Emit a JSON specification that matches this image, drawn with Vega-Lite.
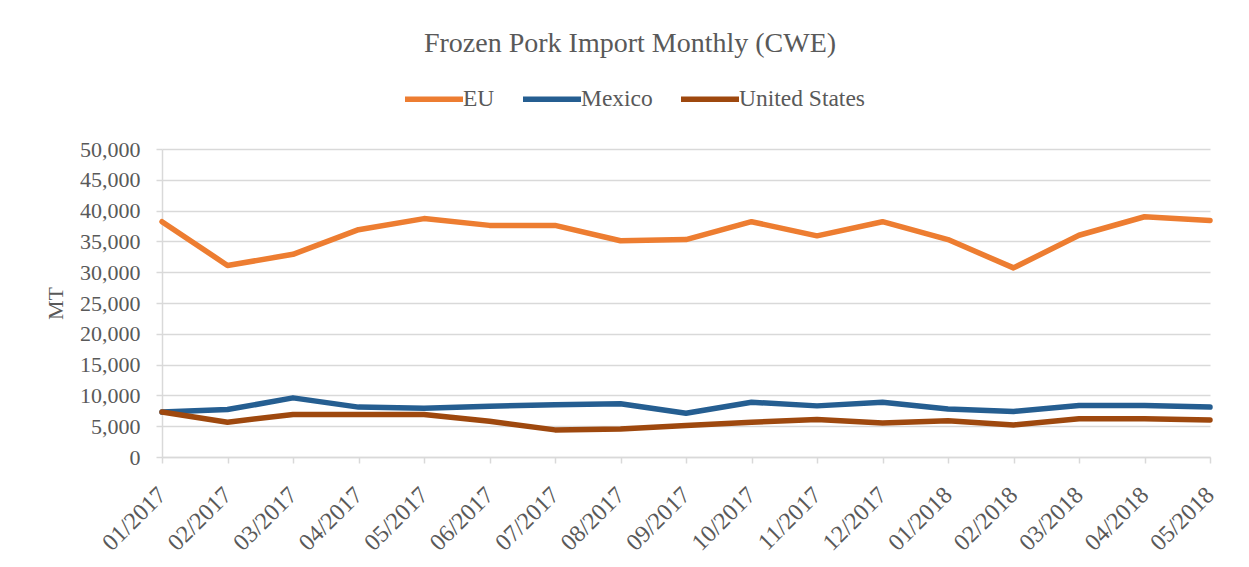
{
  "$schema": "https://vega.github.io/schema/vega-lite/v6.json",
  "width": 1048,
  "height": 308,
  "autosize": {"type": "none"},
  "padding": {"left": 162, "top": 149, "right": 39, "bottom": 110},
  "background": "white",
  "title": {
    "text": "Frozen Pork Import Monthly (CWE)",
    "font": "Liberation Serif",
    "fontSize": 28,
    "fontWeight": "normal",
    "color": "#595959",
    "anchor": "middle",
    "dx": -56,
    "offset": 9
  },
  "data": {
    "values": [
      {"month": "01/2017", "series": "EU", "value": 38200},
      {"month": "02/2017", "series": "EU", "value": 31100},
      {"month": "03/2017", "series": "EU", "value": 32900},
      {"month": "04/2017", "series": "EU", "value": 36900},
      {"month": "05/2017", "series": "EU", "value": 38700},
      {"month": "06/2017", "series": "EU", "value": 37600},
      {"month": "07/2017", "series": "EU", "value": 37600},
      {"month": "08/2017", "series": "EU", "value": 35100},
      {"month": "09/2017", "series": "EU", "value": 35300},
      {"month": "10/2017", "series": "EU", "value": 38200},
      {"month": "11/2017", "series": "EU", "value": 35900},
      {"month": "12/2017", "series": "EU", "value": 38200},
      {"month": "01/2018", "series": "EU", "value": 35300},
      {"month": "02/2018", "series": "EU", "value": 30700},
      {"month": "03/2018", "series": "EU", "value": 36000},
      {"month": "04/2018", "series": "EU", "value": 39000},
      {"month": "05/2018", "series": "EU", "value": 38400},
      {"month": "01/2017", "series": "Mexico", "value": 7300},
      {"month": "02/2017", "series": "Mexico", "value": 7700},
      {"month": "03/2017", "series": "Mexico", "value": 9600},
      {"month": "04/2017", "series": "Mexico", "value": 8100},
      {"month": "05/2017", "series": "Mexico", "value": 7900},
      {"month": "06/2017", "series": "Mexico", "value": 8250},
      {"month": "07/2017", "series": "Mexico", "value": 8500},
      {"month": "08/2017", "series": "Mexico", "value": 8650},
      {"month": "09/2017", "series": "Mexico", "value": 7100},
      {"month": "10/2017", "series": "Mexico", "value": 8900},
      {"month": "11/2017", "series": "Mexico", "value": 8300},
      {"month": "12/2017", "series": "Mexico", "value": 8900},
      {"month": "01/2018", "series": "Mexico", "value": 7800},
      {"month": "02/2018", "series": "Mexico", "value": 7400},
      {"month": "03/2018", "series": "Mexico", "value": 8350},
      {"month": "04/2018", "series": "Mexico", "value": 8350},
      {"month": "05/2018", "series": "Mexico", "value": 8100},
      {"month": "01/2017", "series": "United States", "value": 7300},
      {"month": "02/2017", "series": "United States", "value": 5650},
      {"month": "03/2017", "series": "United States", "value": 6900},
      {"month": "04/2017", "series": "United States", "value": 6900},
      {"month": "05/2017", "series": "United States", "value": 6900},
      {"month": "06/2017", "series": "United States", "value": 5800},
      {"month": "07/2017", "series": "United States", "value": 4400},
      {"month": "08/2017", "series": "United States", "value": 4550},
      {"month": "09/2017", "series": "United States", "value": 5100},
      {"month": "10/2017", "series": "United States", "value": 5650},
      {"month": "11/2017", "series": "United States", "value": 6100},
      {"month": "12/2017", "series": "United States", "value": 5500},
      {"month": "01/2018", "series": "United States", "value": 5900},
      {"month": "02/2018", "series": "United States", "value": 5200},
      {"month": "03/2018", "series": "United States", "value": 6200},
      {"month": "04/2018", "series": "United States", "value": 6200},
      {"month": "05/2018", "series": "United States", "value": 6000}
    ]
  },
  "mark": {"type": "line", "strokeWidth": 5.5, "strokeJoin": "round", "strokeCap": "round"},
  "encoding": {
    "x": {
      "field": "month",
      "type": "ordinal",
      "sort": null,
      "scale": {"type": "point", "padding": 0},
      "axis": {
        "title": null,
        "labelAngle": -45,
        "labelAlign": "right",
        "labelBaseline": "middle",
        "labelPadding": 28,
        "labelFont": "Liberation Serif",
        "labelFontSize": 24,
        "labelColor": "#595959",
        "domainColor": "#D9D9D9",
        "domainWidth": 1.5,
        "tickColor": "#D9D9D9",
        "tickSize": 6,
        "tickWidth": 1.5,
        "grid": false
      }
    },
    "y": {
      "field": "value",
      "type": "quantitative",
      "scale": {"domain": [0, 50000], "nice": false},
      "axis": {
        "title": "MT",
        "titleFont": "Liberation Serif",
        "titleFontSize": 22,
        "titleFontWeight": "normal",
        "titleColor": "#595959",
        "titlePadding": 12,
        "values": [0, 5000, 10000, 15000, 20000, 25000, 30000, 35000, 40000, 45000, 50000],
        "format": ",.0f",
        "labelFont": "Liberation Serif",
        "labelFontSize": 22,
        "labelColor": "#595959",
        "labelPadding": 16,
        "domainColor": "#D9D9D9",
        "domainWidth": 1.5,
        "tickColor": "#D9D9D9",
        "tickSize": 6,
        "tickWidth": 1.5,
        "grid": true,
        "gridColor": "#D9D9D9",
        "gridWidth": 1.5
      }
    },
    "color": {
      "field": "series",
      "type": "nominal",
      "scale": {"domain": ["EU", "Mexico", "United States"], "range": ["#ED7D31", "#255E91", "#9E480E"]},
      "legend": {
        "title": null,
        "orient": "none",
        "direction": "horizontal",
        "legendX": 240,
        "legendY": -82,
        "symbolType": "stroke",
        "symbolSize": 3364,
        "symbolStrokeWidth": 5.5,
        "labelOffset": -3,
        "columnPadding": 17,
        "labelFont": "Liberation Serif",
        "labelFontSize": 23.5,
        "labelColor": "#595959"
      }
    }
  },
  "config": {"view": {"stroke": null}}
}
